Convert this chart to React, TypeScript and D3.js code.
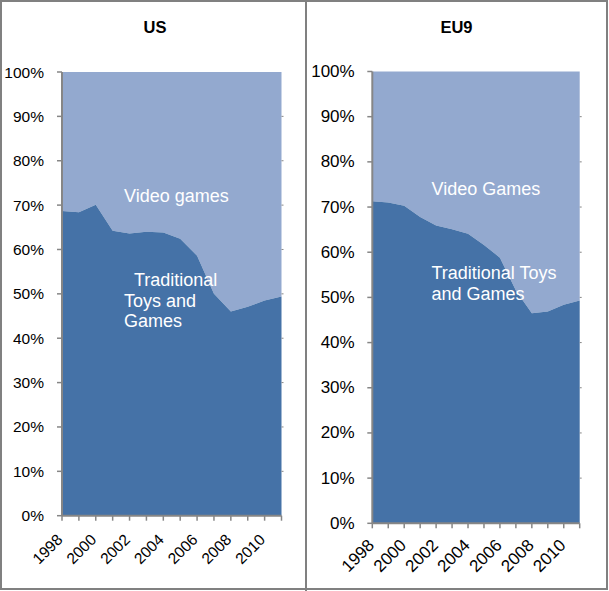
import React from "react";
import * as d3 from "d3";

const years = [1998, 1999, 2000, 2001, 2002, 2003, 2004, 2005, 2006, 2007, 2008, 2009, 2010, 2011];
const usTraditional = [68.7, 68.4, 70.1, 64.2, 63.6, 64.0, 63.8, 62.4, 58.6, 50.0, 46.0, 47.1, 48.5, 49.4];
const eu9Traditional = [71.3, 71.0, 70.3, 67.8, 65.9, 65.1, 64.1, 61.6, 58.8, 51.5, 46.5, 46.9, 48.4, 49.3];
const yTicks = [0, 10, 20, 30, 40, 50, 60, 70, 80, 90, 100];
const xLabelYears = [1998, 2000, 2002, 2004, 2006, 2008, 2010];
const panelTitles = ["US", "EU9"];

const DARK = "#4572A7";
const LIGHT = "#93A9CF";
const AXIS = "#868686";
const FONT = "'Liberation Sans', Arial, sans-serif";

type PanelProps = {
  title: string;
  values: number[];
  x0: number;
  x1: number;
  yTop: number;
  yBot: number;
  titleX: number;
  labelFont: number;
  labelEnd: number;
  xlDx: number;
  xlDy: number;
  topLabel: { text: string; x: number; y: number };
  bottomLabel: { lines: string[]; xs: number[]; y: number; dy: number };
};

function Panel(p: PanelProps) {
  const x = d3.scaleLinear().domain([years[0], years[years.length - 1]]).range([p.x0, p.x1]);
  const y = d3.scaleLinear().domain([0, 100]).range([p.yBot, p.yTop]);
  const data = years.map((yr, i) => ({ yr, v: p.values[i] }));
  const areaLow = d3.area<{ yr: number; v: number }>().x((d) => x(d.yr)).y0(y(0)).y1((d) => y(d.v));
  const areaHigh = d3.area<{ yr: number; v: number }>().x((d) => x(d.yr)).y0((d) => y(d.v)).y1(y(100));
  return (
    <g>
      <text x={p.titleX} y={33} textAnchor="middle" fontFamily={FONT} fontWeight="bold" fontSize={16.5} fill="#000">
        {p.title}
      </text>
      <path d={areaHigh(data) || ""} fill={LIGHT} />
      <path d={areaLow(data) || ""} fill={DARK} />
      {yTicks.map((t) => (
        <g key={t}>
          <line x1={p.x0 - 5} x2={p.x0} y1={y(t)} y2={y(t)} stroke={AXIS} strokeWidth={1.5} />
          {t > 0 && t < 100 && (
            <line x1={p.x1} x2={p.x1 + 2} y1={y(t)} y2={y(t)} stroke={AXIS} strokeWidth={1} />
          )}
          <text x={p.labelEnd} y={y(t) + 5.5} textAnchor="end" fontFamily={FONT} fontSize={p.labelFont} fill="#000">
            {t}%
          </text>
        </g>
      ))}
      <line x1={p.x0} x2={p.x0} y1={p.yTop} y2={p.yBot} stroke={AXIS} strokeWidth={2} />
      <line x1={p.x0} x2={p.x1} y1={p.yBot} y2={p.yBot} stroke={AXIS} strokeWidth={2} />
      {years.map((yr) => (
        <line key={yr} x1={x(yr)} x2={x(yr)} y1={p.yBot} y2={p.yBot + 5} stroke={AXIS} strokeWidth={1.5} />
      ))}
      {xLabelYears.map((yr) => (
        <text
          key={yr}
          transform={`translate(${x(yr) + p.xlDx},${p.yBot + p.xlDy}) rotate(-45)`}
          textAnchor="end"
          fontFamily={FONT}
          fontSize={p.labelFont}
          fill="#000"
        >
          {yr}
        </text>
      ))}
      <text x={p.topLabel.x} y={p.topLabel.y} fontFamily={FONT} fontSize={18} fill="#fff">
        {p.topLabel.text}
      </text>
      {p.bottomLabel.lines.map((l, i) => (
        <text key={i} x={p.bottomLabel.xs[i]} y={p.bottomLabel.y + i * p.bottomLabel.dy} fontFamily={FONT} fontSize={18} fill="#fff">
          {l}
        </text>
      ))}
    </g>
  );
}

export default function App() {
  return (
    <svg width={609} height={591} style={{ position: "absolute", left: 0, top: 0, background: "#fff" }}>
      <rect x={0} y={0} width={609} height={591} fill="#fff" />
      <Panel
        title={panelTitles[0]}
        values={usTraditional}
        x0={62}
        x1={281.5}
        yTop={72}
        yBot={515.7}
        titleX={155}
        labelFont={15.5}
        labelEnd={44}
        xlDx={1.5}
        xlDy={25}
        topLabel={{ text: "Video games", x: 124, y: 202 }}
        bottomLabel={{ lines: ["Traditional", "Toys and", "Games"], xs: [134, 124, 124], y: 286, dy: 20.7 }}
      />
      <Panel
        title={panelTitles[1]}
        values={eu9Traditional}
        x0={372.3}
        x1={579.7}
        yTop={71.5}
        yBot={523.3}
        titleX={456.5}
        labelFont={17}
        labelEnd={354.7}
        xlDx={3}
        xlDy={23}
        topLabel={{ text: "Video Games", x: 431.5, y: 195 }}
        bottomLabel={{ lines: ["Traditional Toys", "and Games"], xs: [431.5, 431.5], y: 278.5, dy: 21 }}
      />
      <rect x={1} y={1} width={606} height={588} fill="none" stroke="#808080" strokeWidth={2} />
      <line x1={306} x2={306} y1={0} y2={591} stroke="#808080" strokeWidth={2} />
    </svg>
  );
}
